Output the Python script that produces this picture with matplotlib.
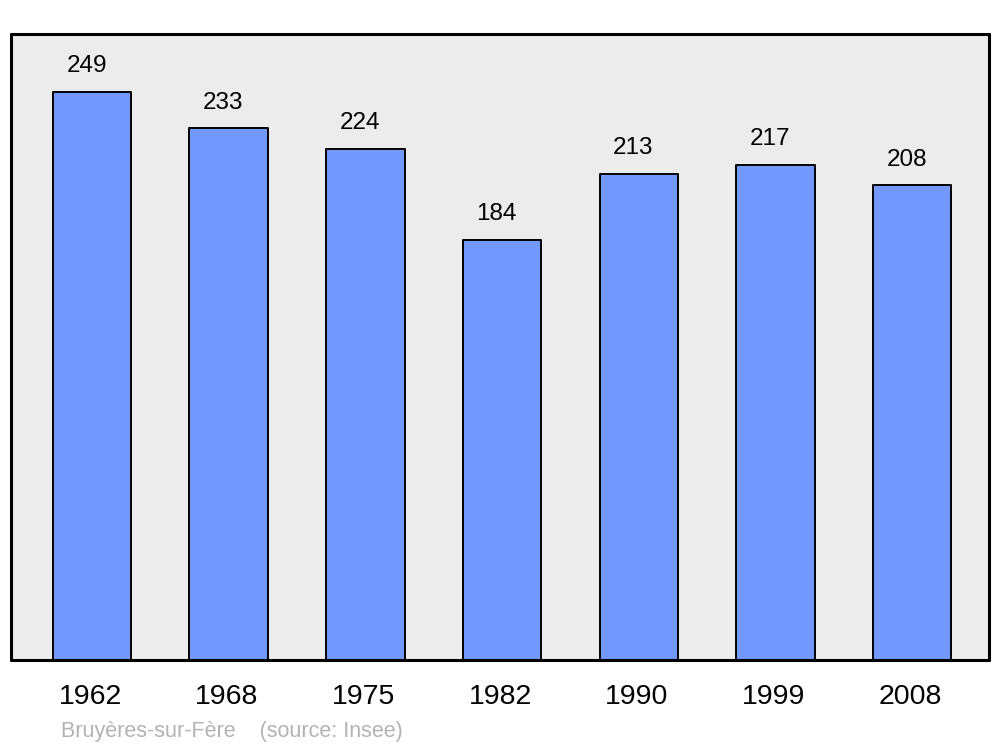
import matplotlib
matplotlib.use("Agg")
import matplotlib.pyplot as plt
from matplotlib.transforms import ScaledTranslation

years = ["1962", "1968", "1975", "1982", "1990", "1999", "2008"]
population = [249, 233, 224, 184, 213, 217, 208]
caption = "Bruyères-sur-Fère    (source: Insee)"

plt.rcParams['font.family'] = ['Liberation Sans', 'DejaVu Sans']

fig = plt.figure(figsize=(10, 7.47), dpi=100)
ax = fig.add_axes([0.011, 0.1165, 0.978, 0.838])
ax.set_facecolor('#ececec')

x = list(range(len(years)))
bars = ax.bar(x, population, width=0.575, color='#7399ff', edgecolor='black',
              linewidth=1.4, zorder=2)
for b in bars:
    b.set_joinstyle('round')

for xi, v in zip(x, population):
    ax.annotate(str(v), (xi, v), xytext=(-4, 18.5), textcoords='offset points',
                ha='center', va='center', fontsize=17.5, color='black')

ax.set_xlim(-0.593, 6.562)
ax.set_ylim(0, 274.3)
ax.set_yticks([])
ax.set_xticks(x)
ax.set_xticklabels(years, fontsize=20.5)
ax.tick_params(axis='x', length=0, pad=17)
shift = ScaledTranslation(-2 / 100, 0, fig.dpi_scale_trans)
for lbl in ax.get_xticklabels():
    lbl.set_transform(lbl.get_transform() + shift)
for s in ax.spines.values():
    s.set_linewidth(2.2)
    s.set_joinstyle('round')
    s.set_capstyle('round')

fig.text(0.061, (747 - 732) / 747, caption, fontsize=15.5, color='#b3b3b3',
         ha='left', va='center')

fig.savefig('out.png', dpi=100, facecolor='white')
